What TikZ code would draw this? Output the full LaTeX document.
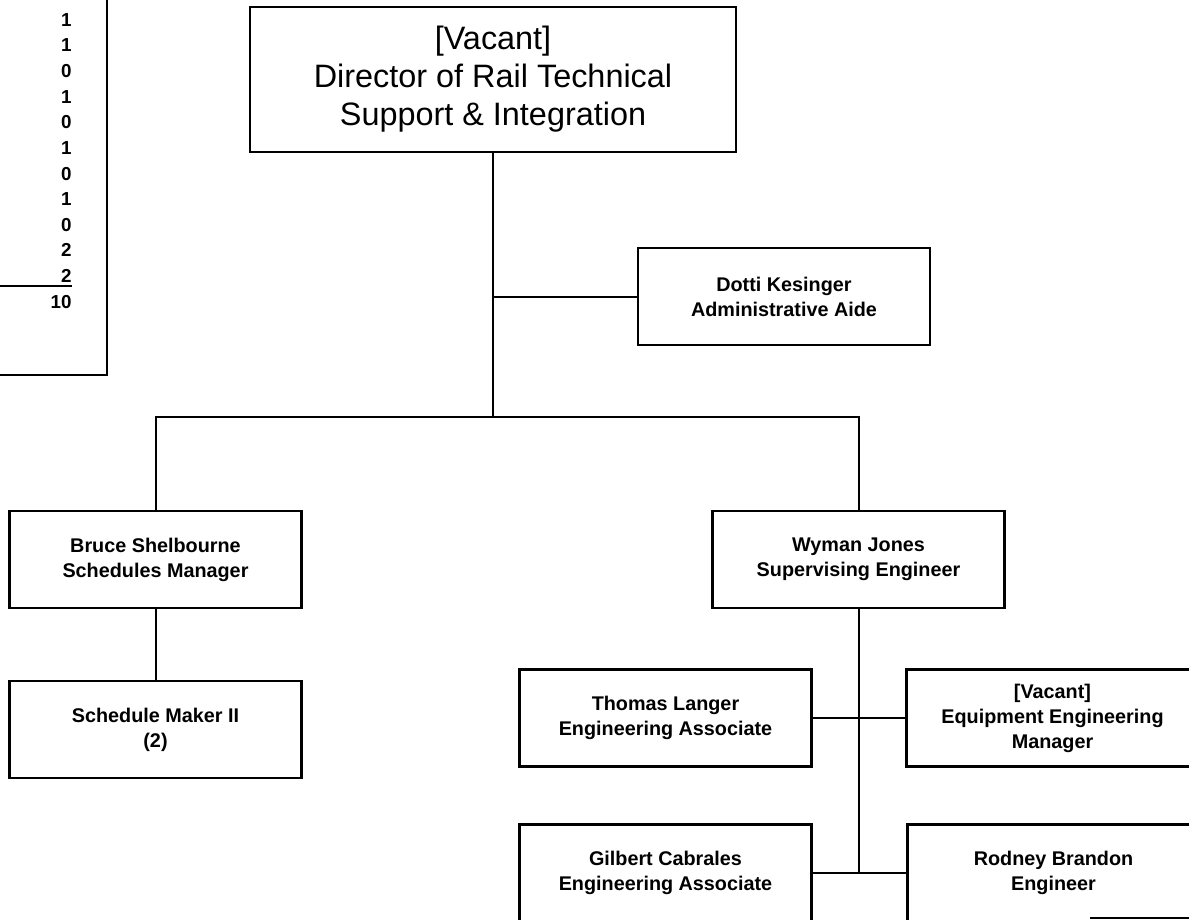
\documentclass[tikz,border=0pt]{standalone}
\usepackage{fontspec}
\setmainfont{Liberation Sans}
\usetikzlibrary{positioning}
\tikzset{
  box/.style  = {draw=black, line width=1.4pt, fill=white, align=center,
                 font=\fontsize{9.9}{12.5}\selectfont\bfseries, inner sep=2pt,
                 minimum width=146pt, minimum height=48.5pt, outer sep=0pt},
  head/.style = {font=\fontsize{16.2}{19}\selectfont, minimum width=243pt, minimum height=72.5pt},
  fl/.style   = {draw=black, line width=1pt},
  num/.style  = {font=\fontsize{9.4}{9.4}\selectfont\bfseries, anchor=base east, inner sep=0pt}
}

\begin{document}
\begin{tikzpicture}[x=0.5pt, y=-0.5pt]
  \useasboundingbox (0,0) rectangle (1189,920);

  % position count, cut at the left edge
  \foreach \v [count=\i from 0] in {1,1,1,0,1,0,1,0,1,0,2,2,10}
    \node[num] (n\i) at (72, {0.8+25.6*\i}) {\v};
  \draw[fl] (0,286) -- (72,286);
  \draw[fl, line width=1.3pt] (107,0) |- (0,375);

  \node[box, head] (dir) at (493,79.5) {[Vacant]\\ Director of Rail Technical\\ Support \& Integration};
  \node[box] (aide) at (784,296.5) {Dotti Kesinger\\ Administrative Aide};

  \node[box] (sched) at (155.5,559.5) {Bruce Shelbourne\\ Schedules Manager};
  \node[box] (eng) at (858.5,559.5) {Wyman Jones\\ Supervising Engineer};
  \node[box, below=36.5pt of sched] (maker) {Schedule Maker II\\ (2)};

  \node[box] (langer) at (665.5,718) {Thomas Langer\\ Engineering Associate};
  \node[box, right=47.5pt of langer] (equip) {[Vacant]\\ Equipment Engineering\\ Manager};
  \node[box, below=29pt of langer] (cabrales) {Gilbert Cabrales\\ Engineering Associate};
  \node[box, right=48pt of cabrales] (brandon) {Rodney Brandon\\ Engineer};

  \coordinate (bar) at (493,417);
  \draw[fl] (dir.south) -- (bar);
  \draw[fl] (dir.south |- aide.west) -- (aide.west);
  \draw[fl] (sched.north) |- (bar) -| (eng.north);
  \draw[fl] (sched.south) -- (maker.north);

  \coordinate (tail) at (eng.south |- cabrales.east);
  \draw[fl] (eng.south) -- (tail);
  \draw[fl] (langer.east) -- (equip.west);
  \draw[fl] (cabrales.east) -- (brandon.west);

  % edge of a box below the page
  \draw[fl, line width=0.6pt] (1090,918) -- (1189,918);
\end{tikzpicture}
\end{document}
